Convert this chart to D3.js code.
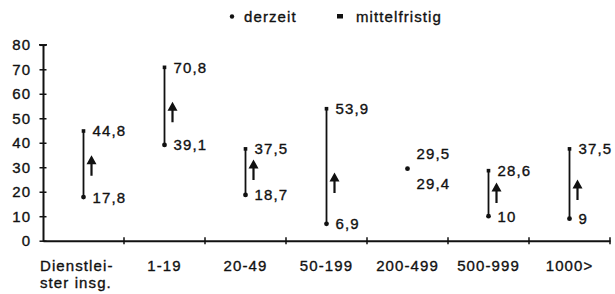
<!DOCTYPE html>
<html>
<head>
<meta charset="utf-8">
<script src="https://cdn.jsdelivr.net/npm/d3@7"></script>
<style>
  body { margin: 0; background: #fff; }
  svg text { font-family: "Liberation Sans", Arial, sans-serif; fill: #111; stroke: #111; stroke-width: 0.35px; }
</style>
</head>
<body>
<svg id="chart"></svg>
<script>
// Betriebsgrößenklassen
const categories = ["Dienstleister insg.", "1-19", "20-49", "50-199", "200-499", "500-999", "1000>"];
// Anteile derzeit / mittelfristig (%)
const derzeit = [17.8, 39.1, 18.7, 6.9, 29.4, 10, 9];
const mittelfristig = [44.8, 70.8, 37.5, 53.9, 29.5, 28.6, 37.5];
// Lage des Pfeils (Wert der Pfeilmitte), null = kein Pfeil
const pfeil = [30.6, 52.5, 28.9, 23.6, null, 19.5, 20.7];
const yTicks = [0, 10, 20, 30, 40, 50, 60, 70, 80];

const fmt = v => String(v).replace(".", ",");

const width = 615, height = 294;
const margin = {left: 43, right: 5, top: 44.8, bottom: 53.3};

const svg = d3.select("#chart")
    .attr("width", width)
    .attr("height", height);

const x = d3.scaleBand()
    .domain(categories)
    .range([margin.left, width - margin.right]);

const y = d3.scaleLinear()
    .domain([0, 80])
    .range([height - margin.bottom, margin.top]);

const ink = "#111";

// y axis
const yAxisG = svg.append("g")
    .attr("transform", `translate(${margin.left},0)`)
    .call(d3.axisLeft(y).tickValues(yTicks).tickSize(0).tickPadding(12));
yAxisG.select(".domain").attr("stroke", ink).attr("stroke-width", 2);
yAxisG.selectAll(".tick line")
    .attr("x1", -3.5).attr("x2", 3.5)
    .attr("stroke", ink).attr("stroke-width", 1.5);
yAxisG.selectAll(".tick text")
    .attr("font-size", 15)
    .attr("letter-spacing", 1)
    .attr("fill", ink);

// x axis
const xAxisG = svg.append("g")
    .attr("transform", `translate(0,${y(0)})`)
    .call(d3.axisBottom(x).tickSize(0).tickPadding(20).tickSizeOuter(0));
xAxisG.select(".domain").attr("stroke", ink).attr("stroke-width", 2);
xAxisG.selectAll(".tick text")
    .attr("font-size", 15)
    .attr("letter-spacing", 1.1)
    .attr("fill", ink);

// first label in two lines, left aligned
xAxisG.selectAll(".tick text")
    .filter(d => d === categories[0])
    .attr("text-anchor", "start")
    .attr("x", -x.bandwidth() / 2 - 3)
    .text(null)
    .call(t => {
      t.append("tspan").attr("x", -x.bandwidth() / 2 - 3).text("Dienstlei-");
      t.append("tspan").attr("x", -x.bandwidth() / 2 - 3).attr("dy", "1.1em").text("ster insg.");
    });

// boundary ticks on x axis
svg.append("g")
  .selectAll("line")
  .data(categories)
  .join("line")
    .attr("x1", d => x(d) + x.step())
    .attr("x2", d => x(d) + x.step())
    .attr("y1", y(0) - 3.5)
    .attr("y2", y(0) + 3.5)
    .attr("stroke", ink)
    .attr("stroke-width", 1.5);

// y axis top cap
svg.append("line")
    .attr("x1", margin.left - 4).attr("x2", margin.left + 4)
    .attr("y1", y(80)).attr("y2", y(80))
    .attr("stroke", ink).attr("stroke-width", 1.5);

const rows = categories.map((c, i) => ({c, lo: derzeit[i], hi: mittelfristig[i], p: pfeil[i]}));
const cx = d => x(d.c) + x.bandwidth() / 2;

const marks = svg.append("g");

// range lines
marks.selectAll(".range")
  .data(rows)
  .join("line")
    .attr("class", "range")
    .attr("x1", cx).attr("x2", cx)
    .attr("y1", d => y(d.lo)).attr("y2", d => y(d.hi))
    .attr("stroke", ink)
    .attr("stroke-width", 1.8);

// derzeit dots
marks.selectAll(".lo")
  .data(rows)
  .join("circle")
    .attr("class", "lo")
    .attr("cx", cx)
    .attr("cy", d => y(d.lo))
    .attr("r", 2.4)
    .attr("fill", ink);

// mittelfristig squares
marks.selectAll(".hi")
  .data(rows.filter(d => d.hi - d.lo > 1))
  .join("rect")
    .attr("class", "hi")
    .attr("x", d => cx(d) - 1.8)
    .attr("y", d => y(d.hi) - 1.8)
    .attr("width", 3.6)
    .attr("height", 3.6)
    .attr("fill", ink);

// arrows
const arrow = marks.selectAll(".arrow")
  .data(rows.filter(d => d.p != null))
  .join("g")
    .attr("class", "arrow")
    .attr("transform", d => `translate(${cx(d) + 8},${y(d.p)})`);
arrow.append("path")
    .attr("d", "M0,-10.5 L5,-1.5 L1.1,-1.5 L1.1,10 L-1.1,10 L-1.1,-1.5 L-5,-1.5 Z")
    .attr("fill", ink);

// value labels
const close = d => d.hi - d.lo < 3;
marks.selectAll(".lblHi")
  .data(rows)
  .join("text")
    .attr("class", "lblHi")
    .attr("x", d => cx(d) + 9)
    .attr("y", d => y(d.hi) + (close(d) ? -15 : 0))
    .attr("dy", "0.36em")
    .attr("font-size", 15)
    .attr("letter-spacing", 1.1)
    .text(d => fmt(d.hi));

marks.selectAll(".lblLo")
  .data(rows)
  .join("text")
    .attr("class", "lblLo")
    .attr("x", d => cx(d) + 9)
    .attr("y", d => y(d.lo) + (close(d) ? 15 : 0))
    .attr("dy", "0.36em")
    .attr("font-size", 15)
    .attr("letter-spacing", 1.1)
    .text(d => fmt(d.lo));

// legend
const legend = svg.append("g").attr("transform", "translate(0,21.5)");
legend.append("circle")
    .attr("cx", 232).attr("cy", -5).attr("r", 2.2).attr("fill", ink);
legend.append("text")
    .attr("x", 244).attr("font-size", 15).attr("letter-spacing", 1.1)
    .text("derzeit");
legend.append("rect")
    .attr("x", 337).attr("y", -7.5).attr("width", 6).attr("height", 4.5).attr("fill", ink);
legend.append("text")
    .attr("x", 356).attr("font-size", 15).attr("letter-spacing", 1.1)
    .text("mittelfristig");
</script>
</body>
</html>
